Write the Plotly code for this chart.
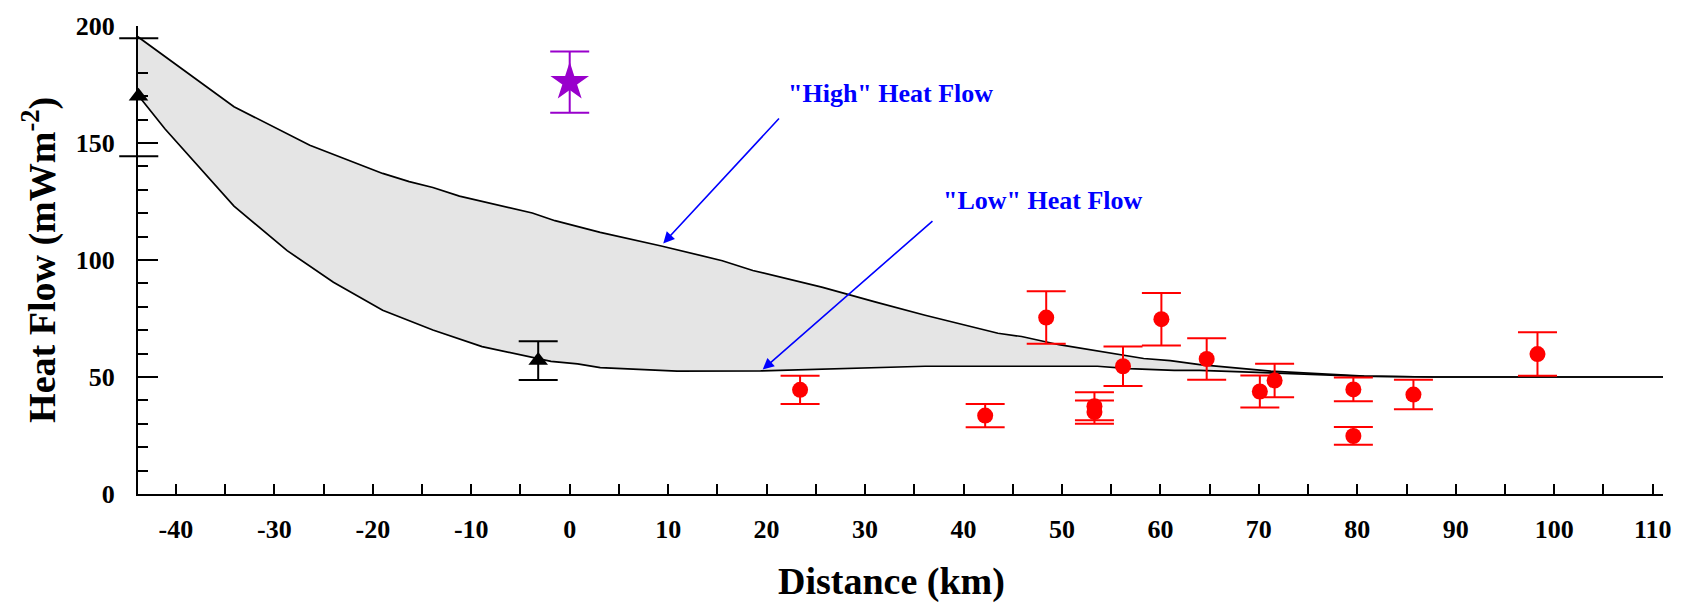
import plotly.graph_objects as go

# Model envelope: upper ("High") and lower ("Low") heat-flow curves
high_x = [-43.9, -38.8, -34.1, -26.4, -19.0, -16.3, -13.9, -11.2, -3.8, -1.5, 3.1, 9.3,
          15.5, 18.6, 25.6, 31.1, 36.1, 43.5, 45.9, 49.7, 58.3, 61.0, 64.0, 71.2, 80.7,
          87.7, 111.1]
high_y = [195.5, 180.0, 165.5, 149.0, 137.0, 133.5, 131.0, 127.3, 120.1, 116.8, 111.8, 106.0,
          99.7, 95.5, 88.4, 82.0, 76.4, 68.7, 67.3, 63.8, 57.9, 57.0, 55.3, 52.5, 50.4,
          50.0, 50.0]

low_x = [-43.9, -41.1, -34.1, -28.7, -24.0, -19.0, -13.9, -8.9, -1.9, 0.8, 3.1, 10.9,
         19.4, 28.8, 36.1, 53.6, 56.8, 61.4, 64.0, 71.2, 80.0, 87.7, 111.1]
low_y = [170.7, 156.0, 123.0, 104.0, 90.5, 78.5, 70.1, 63.0, 56.7, 55.6, 54.0, 52.5,
         52.6, 53.9, 54.6, 54.6, 53.6, 52.8, 52.8, 51.8, 50.4, 50.0, 50.0]

# Measured heat flow sites (red circles)
site_x = [23.4, 42.2, 48.4, 53.3, 53.3, 56.2, 60.1, 64.7, 70.1, 71.6, 79.6, 79.6, 85.7, 98.3]
site_y = [44.5, 33.5, 75.4, 37.5, 35.0, 54.6, 74.7, 57.7, 43.8, 48.5, 44.7, 24.8, 42.5, 59.8]
site_err = [6.0, 5.0, 11.2, 6.0, 5.0, 8.4, 11.2, 8.9, 6.8, 7.2, 5.1, 3.8, 6.3, 9.3]

# Black triangles
tri_edge_x = [-43.8]
tri_edge_y = [170.0]
tri_x = [-3.2]
tri_y = [57.0]
tri_err = [8.3]

# Purple star
star_x = [0.0]
star_y = [176.0]
star_err = [13.1]

x_ticks = [-40, -30, -20, -10, 0, 10, 20, 30, 40, 50, 60, 70, 80, 90, 100, 110]
y_ticks = [0, 50, 100, 150, 200]
y_minor = [10, 20, 30, 40, 60, 70, 80, 90, 110, 120, 130, 140, 160, 170, 180]

FONT = "Liberation Serif"

fig = go.Figure()

fig.add_trace(go.Scatter(x=low_x, y=low_y, mode="lines",
                         line=dict(color="black", width=1.7), showlegend=False))
fig.add_trace(go.Scatter(x=high_x, y=high_y, mode="lines", fill="tonexty",
                         fillcolor="#e5e5e5",
                         line=dict(color="black", width=1.7), showlegend=False))

fig.add_trace(go.Scatter(
    x=site_x, y=site_y, mode="markers",
    marker=dict(symbol="circle", size=16, color="#ff0000"),
    error_y=dict(type="data", array=site_err, color="#ff0000", thickness=2, width=19.5),
    showlegend=False))

fig.add_trace(go.Scatter(
    x=tri_x, y=tri_y, mode="markers",
    marker=dict(symbol="triangle-up", size=17, color="black"),
    error_y=dict(type="data", array=tri_err, color="black", thickness=2, width=19.5),
    showlegend=False))
fig.add_trace(go.Scatter(
    x=tri_edge_x, y=tri_edge_y, mode="markers", cliponaxis=False,
    marker=dict(symbol="triangle-up", size=17, color="black"),
    showlegend=False))

fig.add_trace(go.Scatter(
    x=star_x, y=star_y, mode="markers",
    marker=dict(symbol="star", size=29, color="#9900cc"),
    error_y=dict(type="data", array=star_err, color="#9900cc", thickness=2, width=19.5),
    showlegend=False))

axis_font = dict(family=FONT, size=26, color="black", weight="bold")

fig.update_xaxes(
    range=[-43.85, 111.05], showline=True, linecolor="black", linewidth=2,
    ticks="inside", ticklen=10, tickwidth=1.5, tickcolor="black",
    tickmode="array", tickvals=x_ticks, ticktext=[str(v) for v in x_ticks],
    minor=dict(dtick=5, tick0=0, ticks="inside", ticklen=10, tickwidth=1.5, tickcolor="black"),
    showgrid=False, zeroline=False, tickfont=axis_font, ticklabelstandoff=11)

fig.update_yaxes(
    range=[0, 200], showline=True, linecolor="black", linewidth=2,
    ticks="inside", ticklen=20, tickwidth=2, tickcolor="black",
    tickmode="array", tickvals=y_ticks, ticktext=[str(v) for v in y_ticks],
    minor=dict(tickmode="array", tickvals=y_minor, ticks="inside", ticklen=10,
               tickwidth=2, tickcolor="black"),
    showgrid=False, zeroline=False, tickfont=axis_font, ticklabelstandoff=16)

# Extra crossing ticks on the left axis
for yv in (194.8, 144.3):
    fig.add_shape(type="line", xref="paper", yref="y", x0=-0.0123, x1=0.0133,
                  y0=yv, y1=yv, line=dict(color="black", width=2))

blue_font = dict(family=FONT, size=26, color="#0000ff", weight="bold")
title_font = dict(family=FONT, size=38, color="black", weight="bold")

plot_top, plot_bottom = 21, 494

annotations = [
    # arrows
    dict(x=9.5, y=107.1, ax=21.4, ay=161.1, xref="x", yref="y", axref="x", ayref="y",
         text="", showarrow=True, arrowhead=2, arrowsize=1.4, arrowwidth=1.6,
         arrowcolor="#0000ff", standoff=0, startstandoff=0),
    dict(x=19.6, y=53.2, ax=37.0, ay=117.2, xref="x", yref="y", axref="x", ayref="y",
         text="", showarrow=True, arrowhead=2, arrowsize=1.4, arrowwidth=1.6,
         arrowcolor="#0000ff", standoff=0, startstandoff=0),
    # labels
    dict(x=22.0, y=171.0, xref="x", yref="y", text='"High" Heat Flow', showarrow=False,
         xanchor="left", yanchor="middle", font=blue_font),
    dict(x=37.7, y=125.3, xref="x", yref="y", text='"Low" Heat Flow', showarrow=False,
         xanchor="left", yanchor="middle", font=blue_font),
    # axis titles
    dict(x=0.494, y=(plot_bottom - 582) / (plot_bottom - plot_top), xref="paper",
         yref="paper", text="Distance (km)", showarrow=False,
         xanchor="center", yanchor="middle", font=title_font),
    dict(x=-0.065, y=0.5, xref="paper", yref="paper", text="Heat Flow (mWm<sup>-2</sup>)",
         showarrow=False, textangle=-90, xanchor="center", yanchor="middle", font=title_font),
]
fig.update_layout(annotations=annotations)

fig.update_layout(
    width=1691, height=607,
    margin=dict(l=138, r=28, t=plot_top, b=607 - plot_bottom),
    paper_bgcolor="white", plot_bgcolor="white",
    font=dict(family=FONT, color="black"),
)

fig.write_html("out.html")
